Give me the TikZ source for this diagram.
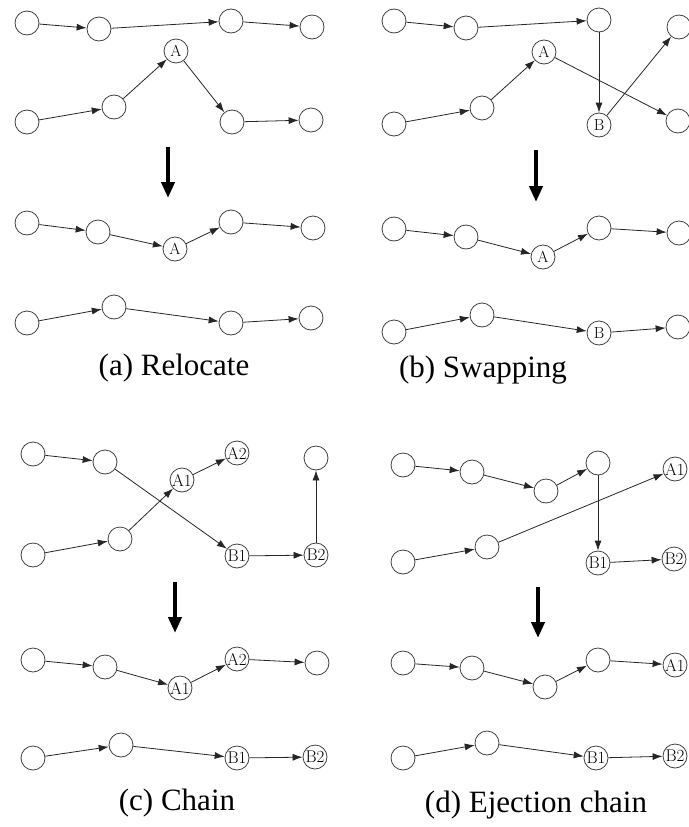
\documentclass[tikz,border=0pt]{standalone}
\usepackage{fontspec}
\usetikzlibrary{arrows.meta}
\newfontfamily\capfont{Liberation Serif}

\begin{document}
\begin{tikzpicture}[x=1pt,y=-1pt,
  vtx/.style={circle,draw=black!75,line width=0.8pt,minimum size=24pt,inner sep=0pt,
    font=\fontsize{16}{16}\selectfont},
  vtx2/.style={vtx,font=\fontsize{17}{17}\selectfont},
  lnk/.style={-{Latex[length=10pt,width=7pt]},line width=0.8pt,black!85},
  big/.style={-{Triangle[length=16pt,width=13pt]},line width=4pt},
  subcap/.style={font=\capfont\fontsize{31}{36}\selectfont}]
  \useasboundingbox (0,0) rectangle (688,827);

  % (a) relocate
  \node[vtx] (a1) at (27,23) {};
  \node[vtx] (a2) at (99,29) {};
  \node[vtx] (a3) at (231,21) {};
  \node[vtx] (a4) at (312,27) {};
  \node[vtx] (aA) at (176,51) {A};
  \node[vtx] (a5) at (27,122) {};
  \node[vtx] (a6) at (114,107) {};
  \node[vtx] (a7) at (232,122) {};
  \node[vtx] (a8) at (311,120) {};
  \draw[lnk] (a1) -- (a2);
  \draw[lnk] (a2) -- (a3);
  \draw[lnk] (a3) -- (a4);
  \draw[lnk] (a5) -- (a6);
  \draw[lnk] (a6) -- (aA);
  \draw[lnk] (aA) -- (a7);
  \draw[lnk] (a7) -- (a8);
  \coordinate (aS) at (168,147);
  \coordinate (aE) at (168,198);
  \draw[big] (aS) -- (aE);
  \node[vtx] (ra1) at (27,223) {};
  \node[vtx] (ra2) at (98,232) {};
  \node[vtx] (raA) at (175,249) {A};
  \node[vtx] (ra3) at (231,222) {};
  \node[vtx] (ra4) at (313,228) {};
  \node[vtx] (ra5) at (27,323) {};
  \node[vtx] (ra6) at (114,307) {};
  \node[vtx] (ra7) at (231,323) {};
  \node[vtx] (ra8) at (311,318) {};
  \draw[lnk] (ra1) -- (ra2);
  \draw[lnk] (ra2) -- (raA);
  \draw[lnk] (raA) -- (ra3);
  \draw[lnk] (ra3) -- (ra4);
  \draw[lnk] (ra5) -- (ra6);
  \draw[lnk] (ra6) -- (ra7);
  \draw[lnk] (ra7) -- (ra8);
  \node[subcap] (capa) at (174,368) {(a) Relocate};

  % (b) swapping
  \node[vtx] (b1) at (394,21) {};
  \node[vtx] (b2) at (466,28) {};
  \node[vtx] (b3) at (599,20) {};
  \node[vtx] (b4) at (679,27) {};
  \node[vtx] (bA) at (544,52) {A};
  \node[vtx] (b5) at (394,124) {};
  \node[vtx] (b6) at (482,108) {};
  \node[vtx] (bB) at (599,125) {B};
  \node[vtx] (b8) at (678,121) {};
  \draw[lnk] (b1) -- (b2);
  \draw[lnk] (b2) -- (b3);
  \draw[lnk] (b3) -- (bB);
  \draw[lnk] (bB) -- (b4);
  \draw[lnk] (b5) -- (b6);
  \draw[lnk] (b6) -- (bA);
  \draw[lnk] (bA) -- (b8);
  \coordinate (bS) at (536,150);
  \coordinate (bE) at (536,202);
  \draw[big] (bS) -- (bE);
  \node[vtx] (rb1) at (394,229) {};
  \node[vtx] (rb2) at (466,237) {};
  \node[vtx] (rbA) at (543,257) {A};
  \node[vtx] (rb3) at (599,228) {};
  \node[vtx] (rb4) at (679,233) {};
  \node[vtx] (rb5) at (394,332) {};
  \node[vtx] (rb6) at (482,315) {};
  \node[vtx] (rbB) at (599,333) {B};
  \node[vtx] (rb8) at (678,327) {};
  \draw[lnk] (rb1) -- (rb2);
  \draw[lnk] (rb2) -- (rbA);
  \draw[lnk] (rbA) -- (rb3);
  \draw[lnk] (rb3) -- (rb4);
  \draw[lnk] (rb5) -- (rb6);
  \draw[lnk] (rb6) -- (rbB);
  \draw[lnk] (rbB) -- (rb8);
  \node[subcap] (capb) at (483,370) {(b) Swapping};

  % (c) chain
  \node[vtx] (c1) at (33,454) {};
  \node[vtx] (c2) at (105,462) {};
  \node[vtx2] (cA1) at (182,480) {A1};
  \node[vtx2] (cA2) at (237,453) {A2};
  \node[vtx] (c3) at (316,458) {};
  \node[vtx] (c5) at (33,555) {};
  \node[vtx] (c6) at (120,539) {};
  \node[vtx2] (cB1) at (237,556) {B1};
  \node[vtx2] (cB2) at (316,555) {B2};
  \draw[lnk] (c1) -- (c2);
  \draw[lnk] (c2) -- (cB1);
  \draw[lnk] (c5) -- (c6);
  \draw[lnk] (c6) -- (cA1);
  \draw[lnk] (cA1) -- (cA2);
  \draw[lnk] (cB1) -- (cB2);
  \draw[lnk] (cB2) -- (c3);
  \coordinate (cS) at (175,582);
  \coordinate (cE) at (175,633);
  \draw[big] (cS) -- (cE);
  \node[vtx] (rc1) at (33,660) {};
  \node[vtx] (rc2) at (105,667) {};
  \node[vtx2] (rcA1) at (180,688) {A1};
  \node[vtx2] (rcA2) at (237,659) {A2};
  \node[vtx] (rc3) at (317,663) {};
  \node[vtx] (rc5) at (33,758) {};
  \node[vtx] (rc6) at (121,745) {};
  \node[vtx2] (rcB1) at (237,758) {B1};
  \node[vtx2] (rcB2) at (315,757) {B2};
  \draw[lnk] (rc1) -- (rc2);
  \draw[lnk] (rc2) -- (rcA1);
  \draw[lnk] (rcA1) -- (rcA2);
  \draw[lnk] (rcA2) -- (rc3);
  \draw[lnk] (rc5) -- (rc6);
  \draw[lnk] (rc6) -- (rcB1);
  \draw[lnk] (rcB1) -- (rcB2);
  \node[subcap] (capc) at (177,803) {(c) Chain};

  % (d) ejection chain
  \node[vtx] (d1) at (403,465) {};
  \node[vtx] (d2) at (472,472) {};
  \node[vtx] (d3) at (546,491) {};
  \node[vtx] (d4) at (598,463) {};
  \node[vtx2] (dA1) at (675,469) {A1};
  \node[vtx] (d5) at (403,562) {};
  \node[vtx] (d6) at (487,547) {};
  \node[vtx2] (dB1) at (598,563) {B1};
  \node[vtx2] (dB2) at (674,559) {B2};
  \draw[lnk] (d1) -- (d2);
  \draw[lnk] (d2) -- (d3);
  \draw[lnk] (d3) -- (d4);
  \draw[lnk] (d4) -- (dB1);
  \draw[lnk] (dB1) -- (dB2);
  \draw[lnk] (d5) -- (d6);
  \draw[lnk] (d6) -- (dA1);
  \coordinate (dS) at (538,587);
  \coordinate (dE) at (538,638);
  \draw[big] (dS) -- (dE);
  \node[vtx] (rd1) at (403,663) {};
  \node[vtx] (rd2) at (472,668) {};
  \node[vtx] (rd3) at (545,687) {};
  \node[vtx] (rd4) at (598,660) {};
  \node[vtx2] (rdA1) at (675,665) {A1};
  \node[vtx] (rd5) at (403,758) {};
  \node[vtx] (rd6) at (487,743) {};
  \node[vtx2] (rdB1) at (596,758) {B1};
  \node[vtx2] (rdB2) at (675,756) {B2};
  \draw[lnk] (rd1) -- (rd2);
  \draw[lnk] (rd2) -- (rd3);
  \draw[lnk] (rd3) -- (rd4);
  \draw[lnk] (rd4) -- (rdA1);
  \draw[lnk] (rd5) -- (rd6);
  \draw[lnk] (rd6) -- (rdB1);
  \draw[lnk] (rdB1) -- (rdB2);
  \node[subcap] (capd) at (536,805) {(d) Ejection chain};
\end{tikzpicture}
\end{document}
